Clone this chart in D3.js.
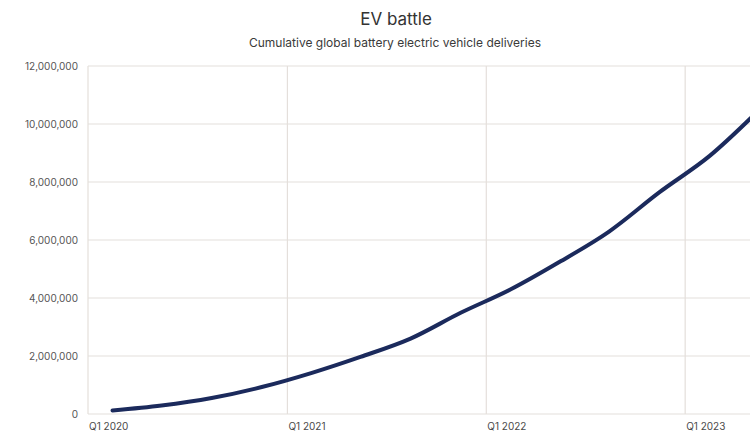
<!DOCTYPE html>
<html><head><meta charset="utf-8">
<script src="https://cdn.jsdelivr.net/npm/d3@7"></script>
<style>
html,body{margin:0;padding:0;background:#fff;}
svg{display:block;font-family:Inter,"Noto Sans",sans-serif;}
</style></head>
<body>
<svg id="chart" width="750" height="439"></svg>
<script>
const quarters = ["Q1 2020","Q2 2020","Q3 2020","Q4 2020","Q1 2021","Q2 2021","Q3 2021","Q4 2021","Q1 2022","Q2 2022","Q3 2022","Q4 2022","Q1 2023","Q2 2023"];
const deliveries = [120000, 290000, 550000, 930000, 1420000, 1970000, 2600000, 3490000, 4300000, 5240000, 6300000, 7650000, 8900000, 10450000];
const yTicks = [0, 2000000, 4000000, 6000000, 8000000, 10000000, 12000000];
const xTickLabels = ["Q1 2020","Q1 2021","Q1 2022","Q1 2023"];

const title = "EV battle";
const subtitle = "Cumulative global battery electric vehicle deliveries";

const svg = d3.select("#chart");
const W = 750, H = 439;
const m = {left: 88, right: 0, top: 66, bottom: 25};

function midDate(q){
  const [qq, yy] = q.split(" ");
  const qi = +qq.slice(1) - 1;
  return new Date(+yy, qi*3 + 1, 15);
}
function startDate(q){
  const [qq, yy] = q.split(" ");
  const qi = +qq.slice(1) - 1;
  return new Date(+yy, qi*3, 1);
}

const x = d3.scaleTime()
  .domain([new Date(2020,0,1), new Date(2023,3,30)])
  .range([m.left, W - m.right]);
const y = d3.scaleLinear().domain([0, 12000000]).range([H - m.bottom, m.top]);

const grid = "#e4dfdb";

svg.append("g").selectAll("line").data(yTicks).join("line")
  .attr("x1", m.left).attr("x2", W)
  .attr("y1", d => y(d)).attr("y2", d => y(d))
  .attr("stroke", grid).attr("stroke-width", 1.2);

svg.append("g").selectAll("line").data(xTickLabels).join("line")
  .attr("x1", d => x(startDate(d))).attr("x2", d => x(startDate(d)))
  .attr("y1", m.top).attr("y2", H - m.bottom)
  .attr("stroke", grid).attr("stroke-width", 1.2);

const fmt = d3.format(",");
svg.append("g").selectAll("text").data(yTicks).join("text")
  .attr("x", 78).attr("y", d => y(d)).attr("dy", "0.35em")
  .attr("text-anchor", "end")
  .attr("font-size", 10).attr("fill", "#555")
  .text(d => fmt(d));

svg.append("g").selectAll("text").data(xTickLabels).join("text")
  .attr("x", d => x(startDate(d)) + 1).attr("y", H - m.bottom + 16)
  .attr("text-anchor", "start")
  .attr("font-size", 10).attr("fill", "#4a4a4a")
  .text(d => d);

const data = quarters.map((q,i) => ({date: midDate(q), v: deliveries[i]}));
svg.append("path").datum(data)
  .attr("fill", "none").attr("stroke", "#1b2a5c").attr("stroke-width", 4)
  .attr("stroke-linejoin", "round").attr("stroke-linecap", "round")
  .attr("d", d3.line().curve(d3.curveMonotoneX).x(d => x(d.date)).y(d => y(d.v)));

svg.append("text").attr("x", 396).attr("y", 25).attr("text-anchor", "middle")
  .attr("font-size", 17).attr("fill", "#333").text(title);
svg.append("text").attr("x", 395).attr("y", 47).attr("text-anchor", "middle")
  .attr("font-size", 12).attr("fill", "#3a3a3a").text(subtitle);
</script>
</body></html>
